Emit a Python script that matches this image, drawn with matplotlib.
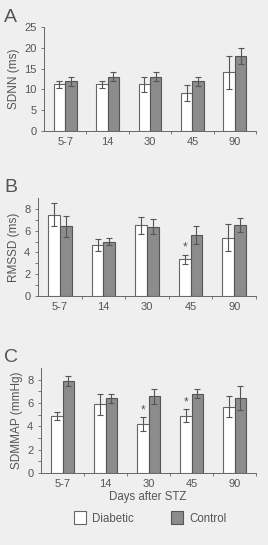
import numpy as np
import matplotlib.pyplot as plt
from matplotlib.patches import Patch

plt.rcParams['font.family'] = ['Liberation Sans', 'DejaVu Sans']

days = ['5-7', '14', '30', '45', '90']

# SDNN (ms)
sdnn_diab = [11.2, 11.2, 11.2, 9.1, 14.1]
sdnn_diab_err = [0.9, 0.9, 1.9, 2.0, 3.9]
sdnn_ctrl = [12.0, 13.1, 13.1, 12.0, 18.0]
sdnn_ctrl_err = [1.1, 1.0, 1.0, 1.1, 2.0]

# RMSSD (ms)
rmssd_diab = [7.45, 4.7, 6.5, 3.37, 5.35]
rmssd_diab_err = [1.05, 0.55, 0.8, 0.43, 1.25]
rmssd_ctrl = [6.4, 5.0, 6.35, 5.6, 6.5]
rmssd_ctrl_err = [0.95, 0.3, 0.7, 0.8, 0.65]

# SDMMAP (mmHg)
sdmmap_diab = [4.9, 5.9, 4.2, 4.9, 5.7]
sdmmap_diab_err = [0.37, 0.9, 0.6, 0.55, 0.9]
sdmmap_ctrl = [7.9, 6.4, 6.57, 6.8, 6.43]
sdmmap_ctrl_err = [0.45, 0.37, 0.63, 0.4, 1.0]

bg = '#efefef'
txt = '#555555'
edge = '#666666'
ctrl_col = '#8c8c8c'

fig = plt.figure(figsize=(2.68, 5.45), dpi=100, facecolor=bg)

panels = [
    ('A', 'SDNN (ms)', sdnn_diab, sdnn_diab_err, sdnn_ctrl, sdnn_ctrl_err,
     [], 25, [0, 5, 10, 15, 20, 25], [44, 131, 256, 27]),
    ('B', 'RMSSD (ms)', rmssd_diab, rmssd_diab_err, rmssd_ctrl, rmssd_ctrl_err,
     [3], 9, [0, 2, 4, 6, 8], [38, 296, 256, 198]),
    ('C', 'SDMMAP (mmHg)', sdmmap_diab, sdmmap_diab_err, sdmmap_ctrl, sdmmap_ctrl_err,
     [2, 3], 9, [0, 2, 4, 6, 8], [41, 473, 256, 368]),
]

W, H = 268, 545
x = np.arange(len(days))
w = 0.27

for letter, ylab, d, de, c, ce, stars, ymax, yt, (l, b, r, t) in panels:
    ax = fig.add_axes([l / W, 1 - b / H, (r - l) / W, (b - t) / H])
    ax.set_facecolor(bg)
    ax.bar(x - w / 2, d, w, color='white', edgecolor=edge, linewidth=0.8)
    ax.bar(x + w / 2, c, w, color=ctrl_col, edgecolor='#555555', linewidth=0.8)
    ax.errorbar(x - w / 2, d, yerr=de, fmt='none', ecolor='#555555',
                elinewidth=0.8, capsize=2, capthick=0.8)
    ax.errorbar(x + w / 2, c, yerr=ce, fmt='none', ecolor='#555555',
                elinewidth=0.8, capsize=2, capthick=0.8)
    for i in stars:
        ax.text(x[i] - w / 2, d[i] + de[i] + ymax * 0.01, '*', ha='center',
                va='bottom', fontsize=8.5, color=txt)
    ax.set_xlim(-0.5, 4.5)
    ax.set_ylim(0, ymax)
    ax.set_yticks(yt)
    if ymax == 9:
        ax.set_yticks([1, 3, 5, 7], minor=True)
    ax.set_xticks(x)
    ax.set_xticklabels(days)
    ax.set_xticks(np.arange(0.5, 5, 1), minor=True)
    ax.tick_params(axis='x', which='major', length=0, labelsize=8, colors=txt, pad=4)
    ax.tick_params(axis='x', which='minor', length=2, color=edge, width=0.6)
    ax.tick_params(axis='y', which='both', length=2, color=edge, width=0.6,
                   labelsize=8, labelcolor=txt)
    for s in ['top', 'right']:
        ax.spines[s].set_visible(False)
    for s in ['left', 'bottom']:
        ax.spines[s].set_color(edge)
        ax.spines[s].set_linewidth(0.7)
    ax.set_ylabel(ylab, fontsize=8.5, color=txt, labelpad=3)
    fig.text(4 / W, 1 - (t - 10) / H, letter, fontsize=14, color=txt,
             va='center', ha='left')

fig.text(148 / W, 1 - 497 / H, 'Days after STZ', fontsize=8.3, color=txt,
         ha='center', va='center')

handles = [Patch(facecolor='white', edgecolor=edge, linewidth=0.8, label='Diabetic'),
           Patch(facecolor=ctrl_col, edgecolor='#555555', linewidth=0.8, label='Control')]
leg = fig.legend(handles=handles, loc='center', bbox_to_anchor=(150 / W, 1 - 518 / H),
                 ncol=2, frameon=False, fontsize=8.3, handlelength=1.1,
                 handleheight=1.3, columnspacing=3.2, handletextpad=0.5)
for t_ in leg.get_texts():
    t_.set_color(txt)

fig.savefig('out.png', dpi=100, facecolor=bg)
